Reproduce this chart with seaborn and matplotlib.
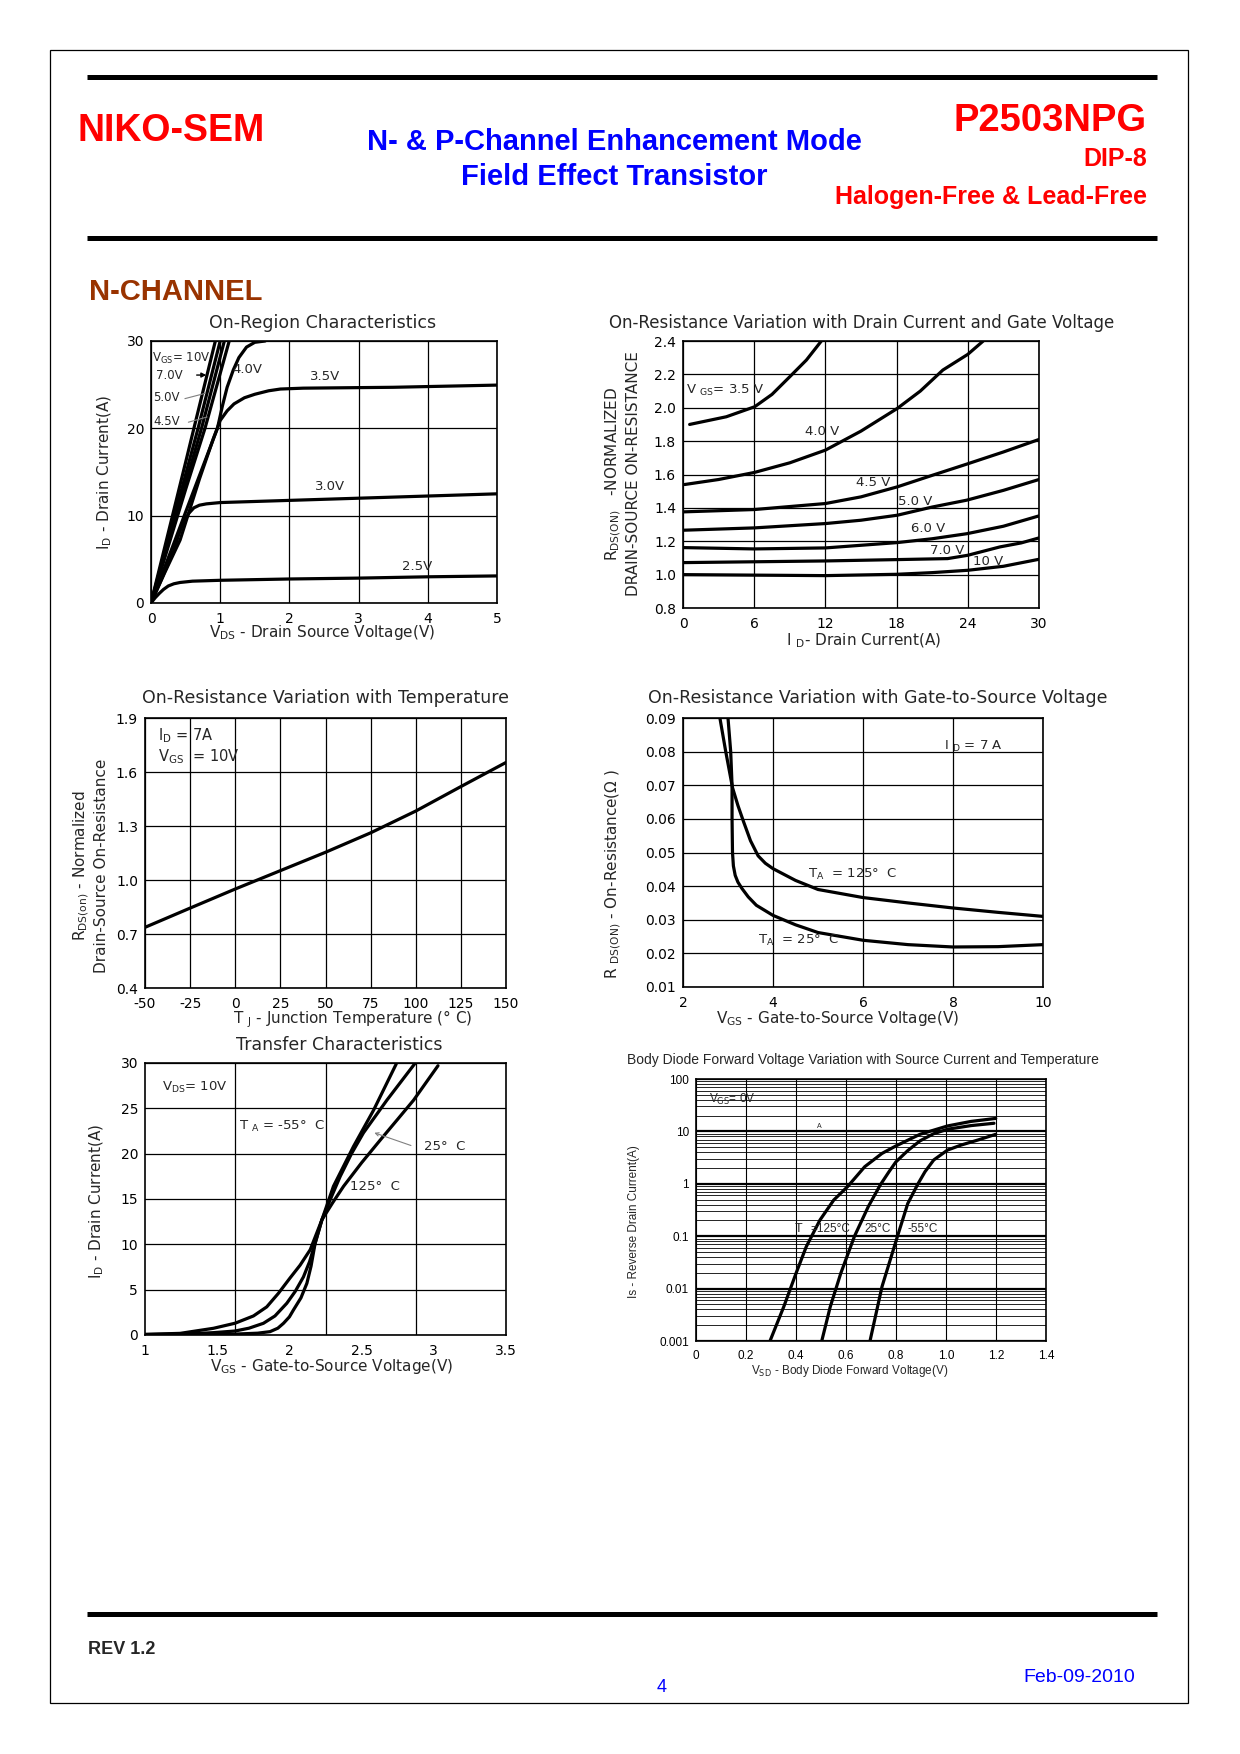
import numpy as np
import pandas as pd
import seaborn as sns
import matplotlib.pyplot as plt
from matplotlib.patches import Rectangle
from matplotlib.lines import Line2D

# ---------------- data ----------------
# On-Region Characteristics: VDS (V) vs ID (A) per VGS
on_vgs10_vds = [0, 0.5, 0.62, 0.93]
on_vgs10_id = [0, 16.1, 20, 30]
on_vgs7_vds = [0, 0.5, 0.68, 1.0]
on_vgs7_id = [0, 14.7, 20, 30]
on_vgs5_vds = [0, 0.5, 0.73, 1.06]
on_vgs5_id = [0, 13.7, 20, 30]
on_vgs45_vds = [0, 0.5, 0.78, 1.13]
on_vgs45_id = [0, 13.0, 20, 30]
on_vgs4_vds = [0, 0.3, 0.6, 0.96, 1.03, 1.1, 1.19, 1.27, 1.38, 1.5, 1.65]
on_vgs4_id = [0, 6.2, 12.5, 20.0, 22.5, 24.7, 26.7, 28.1, 29.3, 29.85, 30.0]
on_vgs35_vds = [0, 0.2, 0.42, 0.7, 0.9, 1.0, 1.1, 1.2, 1.35, 1.5, 1.7, 1.87, 2.2, 3.5, 5.0]
on_vgs35_id = [0, 3.5, 7.2, 14.2, 18.8, 20.9, 22.0, 22.8, 23.5, 23.9, 24.3, 24.5, 24.6, 24.7, 24.95]
on_vgs3_vds = [0, 0.15, 0.33, 0.4, 0.47, 0.55, 0.62, 0.7, 0.8, 1.0, 2.0, 3.0, 4.0, 5.0]
on_vgs3_id = [0, 2.7, 6.0, 7.8, 9.3, 10.3, 10.9, 11.2, 11.35, 11.5, 11.75, 12.0, 12.25, 12.5]
on_vgs25_vds = [0, 0.06, 0.12, 0.18, 0.25, 0.33, 0.42, 0.6, 1.0, 2.0, 3.0, 4.0, 5.0]
on_vgs25_id = [0, 0.6, 1.1, 1.55, 1.95, 2.2, 2.35, 2.5, 2.6, 2.75, 2.85, 3.0, 3.1]

# On-Resistance vs Drain Current and Gate Voltage: ID (A) vs normalized R
rn_35_id = [0.56, 3.65, 6.04, 7.5, 9.0, 10.4, 11.66]
rn_35_r = [1.90, 1.946, 2.006, 2.08, 2.186, 2.286, 2.40]
rn_40_id = [0.14, 3, 6, 9, 12, 15, 18.06, 20, 21.9, 24, 25.3]
rn_40_r = [1.54, 1.57, 1.612, 1.67, 1.746, 1.86, 1.996, 2.1, 2.226, 2.32, 2.40]
rn_45_id = [0, 6, 12, 15, 18.06, 21, 23.9, 27, 30]
rn_45_r = [1.376, 1.39, 1.426, 1.466, 1.526, 1.595, 1.662, 1.735, 1.81]
rn_50_id = [0, 6, 12, 15, 18.06, 21, 23.9, 27, 30]
rn_50_r = [1.266, 1.28, 1.306, 1.326, 1.356, 1.405, 1.446, 1.505, 1.57]
rn_60_id = [0, 6, 12, 18.06, 21, 23.9, 27, 30]
rn_60_r = [1.162, 1.154, 1.16, 1.192, 1.215, 1.245, 1.29, 1.352]
rn_70_id = [0, 12, 18, 22.3, 24, 26.7, 28.5, 30]
rn_70_r = [1.072, 1.082, 1.09, 1.096, 1.116, 1.166, 1.19, 1.22]
rn_10_id = [0, 12, 18, 21, 24, 27, 30]
rn_10_r = [1.0, 0.994, 1.002, 1.012, 1.026, 1.05, 1.092]

# On-Resistance vs Temperature
temp_tj = [-50, -25, 0, 25, 50, 75, 100, 125, 150]
temp_r = [0.737, 0.844, 0.95, 1.052, 1.154, 1.262, 1.383, 1.519, 1.653]

# On-Resistance vs Gate-to-Source Voltage
rg_125_vgs = [2.82, 2.95, 3.1, 3.22, 3.35, 3.5, 3.67, 3.83, 4.0, 4.5, 5.0, 6.0, 7.0, 8.0, 9.0, 10.0]
rg_125_r = [0.09, 0.08, 0.0693, 0.064, 0.059, 0.0535, 0.049, 0.0468, 0.0452, 0.0417, 0.039,
            0.0366, 0.035, 0.0335, 0.0322, 0.031]
rg_25_vgs = [3.0, 3.06, 3.09, 3.09, 3.1, 3.12, 3.16, 3.22, 3.31, 3.45, 3.63, 4.0, 4.5, 5.0,
             6.0, 7.0, 8.0, 9.0, 10.0]
rg_25_r = [0.09, 0.08, 0.07, 0.06, 0.05, 0.046, 0.0432, 0.0412, 0.0393, 0.0368, 0.0343, 0.0313,
           0.0285, 0.0262, 0.0239, 0.0226, 0.0219, 0.022, 0.0226]

# Transfer Characteristics: VGS (V) vs ID (A)
tr_125_vgs = [1.0, 1.243, 1.474, 1.624, 1.751, 1.843, 1.924, 2.005, 2.074, 2.144, 2.225,
              2.3, 2.375, 2.5, 2.629, 2.75, 2.86, 3.029]
tr_125_id = [0.07, 0.18, 0.74, 1.3, 2.1, 3.1, 4.6, 6.3, 7.7, 9.4, 12.7,
             14.6, 16.4, 19.0, 21.5, 23.8, 25.9, 29.7]
tr_25_vgs = [1.0, 1.3, 1.474, 1.624, 1.72, 1.82, 1.9, 1.982, 2.04, 2.097, 2.14, 2.185, 2.225,
             2.29, 2.352, 2.43, 2.513, 2.675, 2.867]
tr_25_id = [0.05, 0.12, 0.26, 0.44, 0.75, 1.29, 2.1, 3.5, 4.8, 6.4, 8.1, 10.5, 12.7,
            15.2, 17.5, 20.0, 22.3, 25.9, 29.9]
tr_m55_vgs = [1.0, 1.4, 1.624, 1.78, 1.866, 1.92, 1.959, 2.0, 2.028, 2.08, 2.121, 2.15, 2.178,
              2.225, 2.305, 2.444, 2.583, 2.74]
tr_m55_id = [0.03, 0.05, 0.1, 0.2, 0.37, 0.75, 1.29, 2.0, 2.76, 4.1, 5.7, 7.6, 10.1,
             12.7, 16.4, 20.8, 24.8, 29.9]

# Body Diode Forward Voltage: VSD (V) vs IS (A)
bd_125_vsd = [0.296, 0.351, 0.40, 0.441, 0.496, 0.551, 0.606, 0.675, 0.744, 0.799, 0.896,
              1.006, 1.1, 1.199]
bd_125_is = [0.001, 0.0045, 0.0195, 0.063, 0.204, 0.49, 0.88, 2.12, 3.8, 5.26, 8.8,
             12.7, 15.5, 17.7]
bd_25_vsd = [0.503, 0.537, 0.579, 0.634, 0.689, 0.737, 0.772, 0.799, 0.847, 0.896, 0.95,
             1.006, 1.1, 1.192]
bd_25_is = [0.001, 0.0045, 0.0195, 0.1, 0.366, 0.95, 1.7, 2.6, 4.3, 6.6, 9.0,
            11.0, 12.9, 14.3]
bd_m55_vsd = [0.696, 0.744, 0.806, 0.847, 0.889, 0.916, 0.951, 1.006, 1.061, 1.13, 1.199]
bd_m55_is = [0.001, 0.0109, 0.1, 0.42, 1.02, 1.7, 2.85, 4.4, 5.5, 6.9, 8.8]

# ---------------- page ----------------
W, H = 1240, 1754
sns.set_style('white')
plt.rcParams['font.family'] = ['DejaVu Sans']
plt.rcParams['mathtext.fontset'] = 'dejavusans'
plt.rcParams['axes.unicode_minus'] = False

RED = '#ff0000'
BLUE = '#0000ff'
HEAD = ['Liberation Sans', 'DejaVu Sans']
CURVE_LW = 2.3

fig = plt.figure(figsize=(W / 100, H / 100), dpi=100)


def page_text(x, y, s, **kw):
    kw.setdefault('va', 'center')
    fig.text(x / W, 1 - y / H, s, **kw)


def page_hline(x0, x1, y, lw):
    fig.add_artist(Line2D([x0 / W, x1 / W], [1 - y / H, 1 - y / H], color='black',
                          lw=lw, solid_capstyle='butt', transform=fig.transFigure))


def make_ax(left, top, right, bottom, labelsize=10):
    ax = fig.add_axes([left / W, 1 - bottom / H, (right - left) / W, (bottom - top) / H])
    for s in ax.spines.values():
        s.set_visible(True)
        s.set_color('black')
        s.set_linewidth(1.2)
    ax.tick_params(which='both', length=0, labelsize=labelsize, colors='black', pad=5)
    ax.tick_params(axis='x', which='both', pad=6.5)
    return ax


def curve(ax, x, y):
    sns.lineplot(x=x, y=y, ax=ax, color='black', linewidth=CURVE_LW, sort=False, estimator=None)


# border and rules
fig.add_artist(Rectangle((50 / W, 1 - 1703 / H), 1138 / W, 1653 / H, transform=fig.transFigure,
                         fill=False, ec='black', lw=0.9))
page_hline(87, 1157, 77, 3.6)
page_hline(87, 1157, 238, 3.6)
page_hline(87, 1157, 1614, 3.6)

# header
page_text(78, 131, 'NIKO-SEM', family=HEAD, weight='bold', size=27, color=RED, ha='left')
page_text(614, 142, 'N- & P-Channel Enhancement Mode', family=HEAD, weight='bold', size=21,
          color=BLUE, ha='center')
page_text(614, 177, 'Field Effect Transistor', family=HEAD, weight='bold', size=21,
          color=BLUE, ha='center')
page_text(1147, 121, 'P2503NPG', family=HEAD, weight='bold', size=27.5, color=RED, ha='right')
page_text(1147, 159, 'DIP-8', family=HEAD, weight='bold', size=18, color=RED, ha='right')
page_text(1147, 197, 'Halogen-Free & Lead-Free', family=HEAD, weight='bold', size=18,
          color=RED, ha='right')
page_text(89, 292, 'N-CHANNEL', family=HEAD, weight='bold', size=21, color='#993300', ha='left')

# footer
page_text(88, 1650, 'REV 1.2', family=HEAD, weight='bold', size=13, ha='left')
page_text(662, 1687, '4', family=HEAD, size=13, color=BLUE, ha='center')
page_text(1135, 1677, 'Feb-09-2010', family=HEAD, size=14, color=BLUE, ha='right')

TITLE = 12.5
LAB = 11
ANN = 9.5

# ---- 1. On-Region Characteristics ----
ax1 = make_ax(151, 341, 497, 603)
for xs, ys in [(on_vgs10_vds, on_vgs10_id), (on_vgs7_vds, on_vgs7_id), (on_vgs5_vds, on_vgs5_id),
               (on_vgs45_vds, on_vgs45_id), (on_vgs4_vds, on_vgs4_id), (on_vgs35_vds, on_vgs35_id),
               (on_vgs3_vds, on_vgs3_id), (on_vgs25_vds, on_vgs25_id)]:
    curve(ax1, xs, ys)
ax1.set_xlim(0, 5)
ax1.set_ylim(0, 30)
ax1.set_xticks(range(0, 6))
ax1.set_yticks([0, 10, 20, 30])
ax1.grid(True, color='black', lw=0.9)
ax1.text(0.015, 28.0, r'V$_\mathrm{GS}$= 10V', fontsize=8.5, va='center')
ax1.text(0.07, 26.1, '7.0V', fontsize=8.5, va='center')
ax1.annotate('', xy=(0.84, 26.1), xytext=(0.62, 26.1),
             arrowprops=dict(arrowstyle='-|>', color='black', lw=1.0, mutation_scale=7))
ax1.text(0.03, 23.5, '5.0V', fontsize=8.5, va='center')
ax1.plot([0.49, 0.78], [23.4, 24.0], color='gray', lw=0.8)
ax1.text(0.04, 20.8, '4.5V', fontsize=8.5, va='center')
ax1.plot([0.54, 0.81], [20.7, 21.3], color='gray', lw=0.8)
ax1.text(1.17, 26.7, '4.0V', fontsize=ANN, va='center')
ax1.text(2.3, 25.9, '3.5V', fontsize=ANN, va='center')
ax1.text(2.37, 13.3, '3.0V', fontsize=ANN, va='center')
ax1.text(3.62, 4.2, '2.5V', fontsize=ANN, va='center')
page_text(323, 323, 'On-Region Characteristics', size=TITLE, ha='center')
page_text(322, 633, r'V$_\mathrm{DS}$ - Drain Source Voltage(V)', size=LAB, ha='center')
page_text(105, 472, r'I$_\mathrm{D}$ - Drain Current(A)', size=LAB, ha='center', rotation=90)

# ---- 2. On-Resistance vs Drain Current and Gate Voltage ----
ax2 = make_ax(683, 341, 1039, 608)
for xs, ys in [(rn_35_id, rn_35_r), (rn_40_id, rn_40_r), (rn_45_id, rn_45_r), (rn_50_id, rn_50_r),
               (rn_60_id, rn_60_r), (rn_70_id, rn_70_r), (rn_10_id, rn_10_r)]:
    curve(ax2, xs, ys)
ax2.set_xlim(0, 30)
ax2.set_ylim(0.8, 2.4)
ax2.set_xticks(range(0, 31, 6))
r_ticks = [0.8, 1.0, 1.2, 1.4, 1.6, 1.8, 2.0, 2.2, 2.4]
ax2.set_yticks(r_ticks)
ax2.set_yticklabels(['%.1f' % v for v in r_ticks])
ax2.grid(True, color='black', lw=0.9)
ax2.text(0.28, 2.106, r'V $_\mathrm{GS}$= 3.5 V', fontsize=ANN, va='center')
ax2.text(10.25, 1.856, '4.0 V', fontsize=ANN, va='center')
ax2.text(14.6, 1.554, '4.5 V', fontsize=ANN, va='center')
ax2.text(18.1, 1.436, '5.0 V', fontsize=ANN, va='center')
ax2.text(19.2, 1.274, '6.0 V', fontsize=ANN, va='center')
ax2.text(20.8, 1.146, '7.0 V', fontsize=ANN, va='center')
ax2.text(24.4, 1.076, '10 V', fontsize=ANN, va='center')
page_text(862, 323, 'On-Resistance Variation with Drain Current and Gate Voltage', size=12,
          ha='center')
page_text(864, 641, r'I $_\mathrm{D}$- Drain Current(A)', size=LAB, ha='center')
page_text(622, 474, 'R$_\\mathrm{DS(ON)}$   -NORMALIZED\nDRAIN-SOURCE ON-RESISTANCE', size=LAB,
          ha='center', rotation=90, multialignment='center')

# ---- 3. On-Resistance vs Temperature ----
ax3 = make_ax(145, 718, 506, 988)
curve(ax3, temp_tj, temp_r)
ax3.set_xlim(-50, 150)
ax3.set_ylim(0.4, 1.9)
ax3.set_xticks(range(-50, 151, 25))
t_ticks = [0.4, 0.7, 1.0, 1.3, 1.6, 1.9]
ax3.set_yticks(t_ticks)
ax3.set_yticklabels(['%.1f' % v for v in t_ticks])
ax3.grid(True, color='black', lw=0.9)
ax3.text(-42.6, 1.804, r'I$_\mathrm{D}$ = 7A', fontsize=ANN + 1, va='center')
ax3.text(-42.6, 1.687, r'V$_\mathrm{GS}$  = 10V', fontsize=ANN + 1, va='center')
page_text(325, 698, 'On-Resistance Variation with Temperature', size=TITLE, ha='center')
page_text(353, 1019, r'T $_\mathrm{J}$ - Junction Temperature (° C)', size=LAB, ha='center')
page_text(90, 866, 'R$_\\mathrm{DS(on)}$ - Normalized\nDrain-Source On-Resistance', size=LAB,
          ha='center', rotation=90, multialignment='center')

# ---- 4. On-Resistance vs Gate-to-Source Voltage ----
ax4 = make_ax(683, 718, 1043, 987)
curve(ax4, rg_125_vgs, rg_125_r)
curve(ax4, rg_25_vgs, rg_25_r)
ax4.set_xlim(2, 10)
ax4.set_ylim(0.01, 0.09)
ax4.set_xticks([2, 4, 6, 8, 10])
g_ticks = [0.01, 0.02, 0.03, 0.04, 0.05, 0.06, 0.07, 0.08, 0.09]
ax4.set_yticks(g_ticks)
ax4.set_yticklabels(['%.2f' % v for v in g_ticks])
ax4.grid(True, color='black', lw=0.9)
ax4.text(7.8, 0.0814, r'I $_\mathrm{D}$ = 7 A', fontsize=ANN, va='center')
ax4.text(4.77, 0.0434, r'T$_\mathrm{A}$  = 125°  C', fontsize=ANN, va='center')
ax4.text(3.67, 0.0239, r'T$_\mathrm{A}$  = 25°  C', fontsize=ANN, va='center')
page_text(878, 698, 'On-Resistance Variation with Gate-to-Source Voltage', size=TITLE,
          ha='center')
page_text(838, 1019, r'V$_\mathrm{GS}$ - Gate-to-Source Voltage(V)', size=LAB, ha='center')
page_text(613, 874, r'R $_\mathrm{DS(ON)}$ - On-Resistance(Ω )', size=LAB, ha='center',
          rotation=90)

# ---- 5. Transfer Characteristics ----
ax5 = make_ax(145, 1063, 506, 1335)
curve(ax5, tr_125_vgs, tr_125_id)
curve(ax5, tr_25_vgs, tr_25_id)
curve(ax5, tr_m55_vgs, tr_m55_id)
ax5.set_xlim(1, 3.5)
ax5.set_ylim(0, 30)
ax5.set_xticks([1, 1.5, 2, 2.5, 3, 3.5])
ax5.set_xticklabels(['1', '1.5', '2', '2.5', '3', '3.5'])
ax5.set_xticks([1.625, 2.25, 2.875], minor=True)
ax5.set_yticks(range(0, 31, 5))
ax5.grid(True, which='minor', axis='x', color='black', lw=0.9)
ax5.grid(True, which='major', axis='y', color='black', lw=0.9)
ax5.text(1.12, 27.3, r'V$_\mathrm{DS}$= 10V', fontsize=ANN, va='center')
ax5.text(1.65, 23.0, r'T $_\mathrm{A}$ = -55°  C', fontsize=ANN, va='center')
ax5.text(2.93, 20.8, '25°  C', fontsize=ANN, va='center')
ax5.annotate('', xy=(2.57, 22.4), xytext=(2.86, 20.8),
             arrowprops=dict(arrowstyle='->', color='gray', lw=0.8, mutation_scale=6))
ax5.text(2.42, 16.4, '125°  C', fontsize=ANN, va='center')
page_text(339, 1045, 'Transfer Characteristics', size=TITLE, ha='center')
page_text(332, 1366, r'V$_\mathrm{GS}$ - Gate-to-Source Voltage(V)', size=LAB, ha='center')
page_text(97, 1201, r'I$_\mathrm{D}$ - Drain Current(A)', size=LAB, ha='center', rotation=90)

# ---- 6. Body Diode Forward Voltage ----
ARIAL = ['Liberation Sans', 'DejaVu Sans']
ax6 = make_ax(696, 1079, 1046, 1341, labelsize=8.5)
ax6.set_yscale('log')
curve(ax6, bd_125_vsd, bd_125_is)
curve(ax6, bd_25_vsd, bd_25_is)
curve(ax6, bd_m55_vsd, bd_m55_is)
ax6.set_xlim(0, 1.4)
ax6.set_ylim(0.001, 100)
x6 = [0, 0.2, 0.4, 0.6, 0.8, 1.0, 1.2, 1.4]
ax6.set_xticks(x6)
ax6.set_xticklabels(['0', '0.2', '0.4', '0.6', '0.8', '1.0', '1.2', '1.4'], family=ARIAL)
y6 = [0.001, 0.01, 0.1, 1, 10, 100]
ax6.set_yticks(y6)
ax6.set_yticklabels(['0.001', '0.01', '0.1', '1', '10', '100'], family=ARIAL)
ax6.grid(True, which='major', color='black', lw=1.6)
ax6.grid(True, which='major', axis='x', color='black', lw=0.8)
ax6.grid(True, which='minor', axis='y', color='black', lw=0.6)
ax6.text(0.052, 40, r'V$_\mathrm{GS}$= 0V', fontsize=8.5, family=ARIAL, va='center')
ax6.text(0.482, 12.5, 'A', fontsize=5, family=ARIAL, va='center')
ax6.text(0.393, 0.14, 'T', fontsize=9, family=ARIAL, va='center')
ax6.text(0.457, 0.14, '=125°C', fontsize=8.5, family=ARIAL, va='center')
ax6.text(0.675, 0.14, '25°C', fontsize=8.5, family=ARIAL, va='center')
ax6.text(0.847, 0.14, '-55°C', fontsize=8.5, family=ARIAL, va='center')
page_text(863, 1060, 'Body Diode Forward Voltage Variation with Source Current and Temperature',
          size=10, family=ARIAL, ha='center')
page_text(850, 1371, r'V$_\mathrm{SD}$ - Body Diode Forward Voltage(V)', size=8.5, family=ARIAL,
          ha='center')
page_text(634, 1222, 'Is - Reverse Drain Current(A)', size=8.5, family=ARIAL, ha='center',
          rotation=90)

fig.savefig('out.png', dpi=100, facecolor='white')
